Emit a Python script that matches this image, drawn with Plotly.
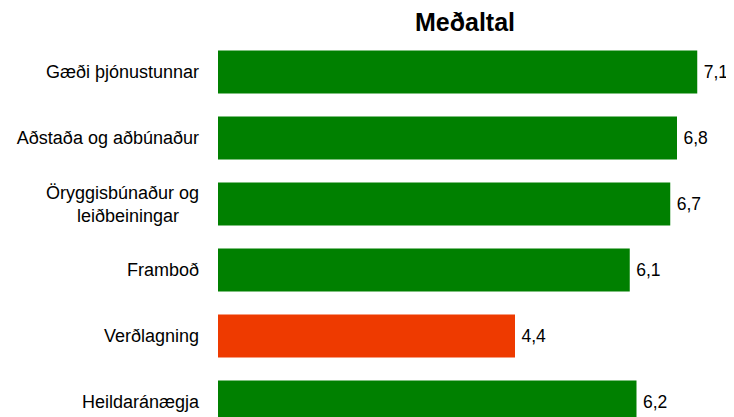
import plotly.graph_objects as go

categories = [
    "Gæði þjónustunnar",
    "Aðstaða og aðbúnaður",
    "Öryggisbúnaður og<br>leiðbeiningar\u00a0\u00a0\u00a0\u00a0",
    "Framboð",
    "Verðlagning",
    "Heildaránægja",
]
values = [7.1, 6.8, 6.7, 6.1, 4.4, 6.2]
value_labels = ["7,1", "6,8", "6,7", "6,1", "4,4", "6,2"]
bar_colors = ["#008000", "#008000", "#008000", "#008000", "#EE3A00", "#008000"]

FONT = "Liberation Sans, Arial, sans-serif"

fig = go.Figure(
    go.Bar(
        x=values,
        y=categories,
        orientation="h",
        marker=dict(color=bar_colors, line=dict(width=0)),
        text=["\u2009" + t for t in value_labels],
        textposition="outside",
        textfont=dict(family=FONT, size=17.5, color="#000000"),
        cliponaxis=False,
        constraintext="none",
        hoverinfo="skip",
    )
)

# page body has an 8px default margin, so the figure is sized/offset accordingly
fig.update_layout(
    width=726,
    height=409,
    margin=dict(l=210, r=3, t=31, b=0, autoexpand=False),
    paper_bgcolor="white",
    plot_bgcolor="white",
    bargap=0.35,
    showlegend=False,
    font=dict(family=FONT, size=18, color="#000000"),
    title=dict(
        text="<b>Meðaltal</b>",
        x=457 / 726,
        xref="container",
        xanchor="center",
        y=1 - 14 / 409,
        yref="container",
        yanchor="middle",
        font=dict(family=FONT, size=25, color="#000000"),
    ),
    xaxis=dict(
        range=[0, 7.6],
        visible=False,
        showgrid=False,
        zeroline=False,
        automargin=False,
    ),
    yaxis=dict(
        range=[5.227, -0.5],
        showgrid=False,
        zeroline=False,
        showline=False,
        ticks="",
        automargin=False,
        ticklabelstandoff=18,
        tickfont=dict(family=FONT, size=18, color="#000000"),
    ),
)

fig.write_html("out.html")
